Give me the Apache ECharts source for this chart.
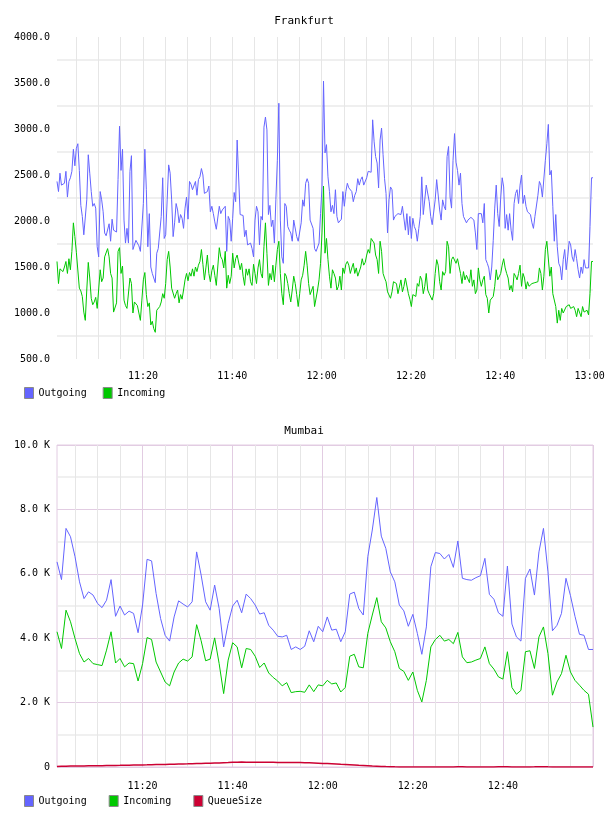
<!DOCTYPE html>
<html>
<head>
<meta charset="utf-8">
<script src="https://cdn.jsdelivr.net/npm/echarts@6/dist/echarts.min.js"></script>
<style>
html, body { margin: 0; padding: 0; background: #fff; }
#main { width: 608px; height: 816px; }
</style>
</head>
<body>
<div id="main"></div>
<script>
// Frankfurt: a sample every 20 s, first one at 11:00:45 (x = minutes after 11:00)
var fraStart = 0.75;
var fraStep = 1 / 3;
var fraOutgoing = [
    2430, 2320, 2520, 2390, 2380, 2410, 2540, 2260, 2430, 2470,
    2540, 2780, 2600, 2790, 2840, 2550, 2170, 2050, 1850, 1870,
    2230, 2720, 2520, 2320, 2160, 2190, 2140, 1720, 1610, 2320,
    2230, 2100, 1870, 1840, 1850, 1970, 1780, 2020, 1900, 1890,
    1880, 2450, 3030, 2550, 2780, 2010, 1760, 1920, 1760, 2540,
    2710, 1690, 1680, 1790, 1780, 1730, 1670, 1670, 2190, 2780,
    2340, 1720, 2080, 1500, 1430, 1410, 1330, 1650, 1700, 1680,
    2050, 2470, 1810, 1850, 2230, 2610, 2520, 2230, 1830, 1980,
    2190, 2120, 1980, 2070, 2030, 1920, 2140, 2260, 2020, 2430,
    2400, 2340, 2320, 2430, 2280, 2450, 2480, 2570, 2500, 2300,
    2280, 2320, 2380, 2100, 2160, 2080, 1990, 1910, 1920, 2160,
    2080, 2120, 2140, 2160, 1670, 2050, 2010, 1780, 2030, 2310,
    2210, 2880, 2890,
    2070, 2050, 2060, 1830, 1900, 1740, 1760, 1760, 1700, 1610,
    2010, 2160, 2100, 1740, 2050, 2010, 3020, 3130, 2990, 2070,
    2170, 1940, 2010, 1760, 2230, 2660, 3280, 2010, 1610, 1540,
    2190, 2160, 1940, 1900, 1870, 1780, 2010, 2010, 1830, 1780,
    1760, 1980, 2230, 2160, 2410, 2460, 2410, 2010, 1990, 1920,
    1700, 1670, 1690, 1760, 2080, 2370, 3520, 2740, 2830, 2480,
    2320, 2100, 2170, 2080, 2340, 2050, 1980, 1980, 2020, 2320,
    2160, 2320, 2410, 2360, 2340, 2320, 2210, 2280, 2320, 2460,
    2390, 2450, 2480, 2390, 2370, 2470, 2540, 2520, 2530, 3100,
    2860, 2700, 2630, 2360, 2880, 3010, 2720, 2460, 2300, 1870,
    2230, 2370, 2340, 2010, 2050, 2070, 2080, 2100, 2070, 2160,
    2170, 1900, 2080, 1850, 2050, 1810, 2030, 1940, 1900, 1780,
    1920,
    2050, 2480, 2070, 2070, 2390, 2380, 2210, 2050, 1960, 1980,
    2230, 2450, 2430, 2120, 2010, 2230, 2160, 2120, 2700, 2810,
    2260, 2140, 2660, 2950, 2640, 2550, 2390, 2520, 2190, 2050,
    2030, 1980, 2010, 2020, 2040, 2030, 2010, 1870, 1690, 2080,
    2070, 2080, 1980, 2190, 1580, 1540, 1490, 1360, 1500, 1790,
    2140, 2390, 2080, 1940, 2250, 2470, 2370, 1920, 2070, 1900,
    2080, 1900, 1790, 2190, 2300, 2340, 2190, 2390, 2500, 2190,
    2280, 2160, 2100, 2120, 2070, 1980, 1920, 2050, 2070, 2280,
    2430, 2390, 2260, 2250, 2660, 2840, 3050, 2500, 2550, 2160,
    1780, 2070, 1720, 1540, 1500, 1360, 1580, 1690, 1470, 1610,
    1780, 1740, 1610, 1560, 1690, 1590, 1470, 1380, 1500, 1430,
    1580, 1490, 1500, 1490, 1940, 2470, 2470
];
var fraIncoming = [
    1560, 1320, 1480, 1490, 1450, 1500, 1560, 1430, 1590, 1470,
    1670, 1980, 1830, 1660, 1670, 1270, 1240, 1180, 1010, 920,
    1250, 1550, 1380, 1160, 1090, 1120, 1170, 1050, 1060, 1470,
    1340, 1380, 1610, 1630, 1700, 1610, 1430, 1380, 1010, 1010,
    1110, 1670, 1710, 1430, 1510, 1140, 1080, 1050, 1040, 1380,
    1320, 1000, 1120, 1140, 1080, 1000, 920, 1140, 1360, 1440,
    1200, 1070, 1110, 870, 910, 830, 790, 1030, 1050, 1070,
    1120, 1210, 1160, 1320, 1580, 1670, 1500, 1270, 1290, 1160,
    1210, 1250, 1110, 1200, 1150, 1250, 1360, 1430, 1350, 1440,
    1400, 1480, 1400, 1500, 1450, 1520, 1560, 1690, 1530, 1360,
    1490, 1630, 1430, 1340, 1460, 1520, 1410, 1300, 1320, 1710,
    1610, 1580, 1490, 1670, 1270, 1410, 1320, 1400, 1650, 1490,
    1590, 1630, 1650,
    1470, 1540, 1400, 1300, 1480, 1410, 1480, 1340, 1300, 1530,
    1430, 1320, 1490, 1580, 1430, 1380, 1720, 1980, 1650, 1300,
    1430, 1360, 1520, 1340, 1520, 1690, 1780, 1430, 1210, 1090,
    1430, 1400, 1320, 1210, 1120, 1250, 1400, 1320, 1200, 1070,
    1210, 1360, 1410, 1520, 1670, 1520, 1320, 1200, 1210, 1290,
    1070, 1050, 1250, 1360, 1540, 1870, 2380, 1650, 1810, 1580,
    1400, 1270, 1470, 1430, 1380, 1250, 1290, 1400, 1250, 1490,
    1430, 1530, 1560, 1520, 1430, 1490, 1540, 1430, 1490, 1400,
    1380, 1500, 1590, 1520, 1550, 1630, 1690, 1650, 1810, 1790,
    1760, 1630, 1580, 1430, 1780, 1670, 1430, 1380, 1340, 1230,
    1210, 1160, 1230, 1340, 1340, 1320, 1210, 1200, 1360, 1230,
    1290, 1380, 1400, 1210, 1150, 1070, 1200, 1210, 1180, 1320,
    1290,
    1400, 1360, 1210, 1290, 1430, 1250, 1210, 1220, 1140, 1210,
    1430, 1580, 1520, 1340, 1250, 1450, 1410, 1450, 1780, 1720,
    1430, 1580, 1610, 1630, 1540, 1590, 1580, 1430, 1320, 1450,
    1360, 1410, 1400, 1330, 1470, 1290, 1360, 1210, 1250, 1490,
    1360, 1290, 1360, 1400, 1200, 1160, 1000, 1140, 1160, 1180,
    1290, 1470, 1360, 1370, 1430, 1520, 1590, 1490, 1430, 1380,
    1250, 1300, 1230, 1430, 1400, 1360, 1430, 1520, 1290, 1430,
    1380, 1260, 1340, 1290, 1290, 1320, 1320, 1330, 1320, 1340,
    1490, 1430, 1250, 1400, 1690, 1780, 1780, 1400, 1500, 1210,
    1210, 1070, 890, 1030, 920, 1050, 1000, 1010, 1070, 1070,
    1090, 1050, 1070, 1070, 1030, 960, 1050, 1030, 960, 1070,
    1010, 1000, 1030, 980, 1210, 1560, 1560
];

// Mumbai: a sample every minute, first one at 11:01
var mumStart = 1;
var mumStep = 1;
var mumOutgoing = [
    6370, 5820, 7410, 7150, 6530, 5750, 5230, 5440, 5340, 5080,
    4950, 5180, 5820, 4680, 5000, 4720, 4840, 4770, 4170, 5030,
    6450, 6400, 5390, 4610, 4090, 3910, 4660, 5160, 5060, 4970,
    5130, 6680, 5960, 5130, 4870, 5650, 4920, 3730, 4460, 5000,
    5180, 4790, 5370, 5230, 5030, 4750, 4790, 4400, 4250, 4060,
    4040, 4090, 3650, 3730, 3650, 3750, 4230, 3890, 4370, 4200,
    4660, 4250, 4280, 3890, 4200, 5370, 5430, 4920, 4720, 6530,
    7360, 8370, 7170, 6790, 6060, 5750, 5030, 4850, 4370, 4740,
    4150, 3500, 4350, 6220, 6660, 6630, 6460, 6600, 6200, 7020,
    5860, 5820, 5800, 5880, 5940, 6480, 5360, 5210, 4790, 4680,
    6240, 4440, 4040, 3910, 5860, 6150, 5340, 6680, 7410, 6060,
    4230, 4400, 4770, 5860, 5320, 4680, 4120, 4090, 3650, 3650
];
var mumIncoming = [
    4200, 3680, 4870, 4510, 3990, 3520, 3260, 3370, 3210, 3180,
    3150, 3630, 4200, 3230, 3370, 3110, 3230, 3210, 2670, 3210,
    4020, 3960, 3260, 2950, 2640, 2520, 2950, 3230, 3350, 3290,
    3420, 4420, 3920, 3300, 3350, 4010, 3210, 2280, 3320, 3860,
    3730, 3080, 3680, 3650, 3440, 3090, 3230, 2920, 2780, 2670,
    2520, 2620, 2310, 2340, 2350, 2320, 2550, 2340, 2550, 2520,
    2690, 2580, 2610, 2330, 2470, 3440, 3500, 3110, 3080, 4150,
    4720, 5260, 4510, 4320, 3890, 3580, 3060, 2970, 2690, 2950,
    2380, 2020, 2690, 3730, 3960, 4090, 3910, 3960, 3830, 4180,
    3420, 3240, 3260, 3320, 3370, 3730, 3210, 3040, 2800, 2730,
    3580, 2470, 2260, 2380, 3580, 3610, 3060, 4040, 4350, 3520,
    2230, 2640, 2900, 3470, 2950, 2690, 2540, 2380, 2260, 1240
];
var mumQueue = [
    15, 20, 25, 28, 30, 32, 34, 36, 38, 40,
    42, 45, 48, 50, 52, 55, 58, 60, 62, 65,
    68, 72, 75, 78, 80, 84, 88, 92, 95, 98,
    102, 106, 110, 114, 118, 122, 126, 132, 138, 145,
    150, 152, 150, 148, 147, 146, 145, 145, 144, 143,
    142, 142, 141, 140, 138, 135, 130, 124, 118, 112,
    105, 98, 90, 82, 75, 68, 60, 52, 45, 38,
    30, 24, 18, 12, 8, 5, 3, 2, 2, 2,
    2, 2, 3, 3, 2, 2, 2, 2, 3, 4,
    4, 3, 2, 2, 2, 2, 2, 3, 5, 6,
    5, 3, 2, 2, 2, 3, 5, 8, 6, 4,
    3, 2, 2, 2, 2, 2, 2, 2, 2, 2
];

// grid lines every 5 minutes, labels every 20 minutes (minutes after 11:00)
var gridMinutes = [5, 10, 15, 20, 25, 30, 35, 40, 45, 50, 55, 60,
    65, 70, 75, 80, 85, 90, 95, 100, 105, 110, 115, 120];
var fraLabelMinutes = [20, 40, 60, 80, 100, 120];
var mumLabelMinutes = [20, 40, 60, 80, 100];

var fontName = 'DejaVu Sans Mono';
var blue = '#6464ff', green = '#00c800', red = '#cc0033';
var pink = '#e2cce2', grey = '#e6e6e6';

function toPairs(start, step, values) {
    return values.map(function (v, i) { return [start + i * step, v]; });
}

function clock(v) {
    var t = Math.round(v);
    var m = t % 60;
    return (11 + Math.floor(t / 60)) + ':' + (m < 10 ? '0' : '') + m;
}

var myChart = echarts.init(document.getElementById('main'));

var option = {
    animation: false,
    textStyle: { fontFamily: fontName, color: '#000' },
    title: [{
        text: 'Frankfurt', left: 'center', top: 11,
        textStyle: { fontFamily: fontName, fontSize: 11, fontWeight: 'normal', color: '#000' }
    }, {
        text: 'Mumbai', left: 'center', top: 421,
        textStyle: { fontFamily: fontName, fontSize: 11, fontWeight: 'normal', color: '#000' }
    }],
    legend: [{
        left: 24, top: 387, padding: 0,
        icon: 'rect', itemWidth: 9, itemHeight: 11, itemGap: 16,
        itemStyle: { borderColor: '#8a8a8a', borderWidth: 1 },
        textStyle: { fontFamily: fontName, fontSize: 10, color: '#000' },
        data: ['Outgoing', 'Incoming']
    }, {
        left: 24, top: 795, padding: 0,
        icon: 'rect', itemWidth: 9, itemHeight: 11, itemGap: 22,
        itemStyle: { borderColor: '#8a8a8a', borderWidth: 1 },
        textStyle: { fontFamily: fontName, fontSize: 10, color: '#000' },
        data: ['Outgoing', 'Incoming', 'QueueSize']
    }],
    grid: [{
        left: 57, right: 15, top: 37, height: 322
    }, {
        left: 57, right: 15, top: 445, height: 322,
        show: true, borderColor: pink, borderWidth: 1
    }],
    xAxis: [{
        gridIndex: 0,
        type: 'value',
        min: fraStart,
        max: fraStart + (fraOutgoing.length - 1) * fraStep,
        axisLine: { show: false },
        axisTick: { show: false, customValues: gridMinutes },
        axisLabel: {
            customValues: fraLabelMinutes, margin: 12,
            fontFamily: fontName, fontSize: 10, color: '#000',
            formatter: clock
        },
        splitLine: { show: true, lineStyle: { color: grey, width: 1 } }
    }, {
        gridIndex: 1,
        type: 'value',
        min: mumStart,
        max: mumStart + (mumOutgoing.length - 1) * mumStep,
        axisLine: { show: false },
        axisTick: { show: false, customValues: gridMinutes },
        axisLabel: {
            customValues: mumLabelMinutes, margin: 14,
            fontFamily: fontName, fontSize: 10, color: '#000',
            formatter: clock
        },
        splitLine: { show: true, lineStyle: { color: [grey, grey, grey, pink], width: 1 } }
    }],
    yAxis: [{
        gridIndex: 0,
        type: 'value',
        min: 500, max: 4000, interval: 500,
        axisLine: { show: false },
        axisTick: { show: false },
        axisLabel: {
            margin: 7, fontFamily: fontName, fontSize: 10, color: '#000',
            formatter: function (v) { return v.toFixed(1); }
        },
        splitLine: { show: false },
        minorTick: { show: false, splitNumber: 2 },
        minorSplitLine: { show: true, lineStyle: { color: '#efefef', width: 2 } }
    }, {
        gridIndex: 1,
        type: 'value',
        min: 0, max: 10000, interval: 2000,
        axisLine: { show: false },
        axisTick: { show: false },
        axisLabel: {
            margin: 7, fontFamily: fontName, fontSize: 10, color: '#000',
            formatter: function (v) { return v === 0 ? '0' : (v / 1000).toFixed(1) + ' K'; }
        },
        splitLine: { show: true, lineStyle: { color: pink, width: 1 } },
        minorTick: { show: false, splitNumber: 2 },
        minorSplitLine: { show: true, lineStyle: { color: '#ececec', width: 1.5 } }
    }],
    series: [{
        name: 'Outgoing', type: 'line', xAxisIndex: 0, yAxisIndex: 0,
        showSymbol: false, symbol: 'none',
        itemStyle: { color: blue }, lineStyle: { color: blue, width: 1 },
        data: toPairs(fraStart, fraStep, fraOutgoing)
    }, {
        name: 'Incoming', type: 'line', xAxisIndex: 0, yAxisIndex: 0,
        showSymbol: false, symbol: 'none',
        itemStyle: { color: green }, lineStyle: { color: green, width: 1 },
        data: toPairs(fraStart, fraStep, fraIncoming)
    }, {
        name: 'Outgoing', type: 'line', xAxisIndex: 1, yAxisIndex: 1,
        showSymbol: false, symbol: 'none',
        itemStyle: { color: blue }, lineStyle: { color: blue, width: 1 },
        data: toPairs(mumStart, mumStep, mumOutgoing)
    }, {
        name: 'Incoming', type: 'line', xAxisIndex: 1, yAxisIndex: 1,
        showSymbol: false, symbol: 'none',
        itemStyle: { color: green }, lineStyle: { color: green, width: 1 },
        data: toPairs(mumStart, mumStep, mumIncoming)
    }, {
        name: 'QueueSize', type: 'line', xAxisIndex: 1, yAxisIndex: 1,
        showSymbol: false, symbol: 'none',
        itemStyle: { color: red }, lineStyle: { color: red, width: 1.5 },
        data: toPairs(mumStart, mumStep, mumQueue)
    }]
};

myChart.setOption(option);
</script>
</body>
</html>
